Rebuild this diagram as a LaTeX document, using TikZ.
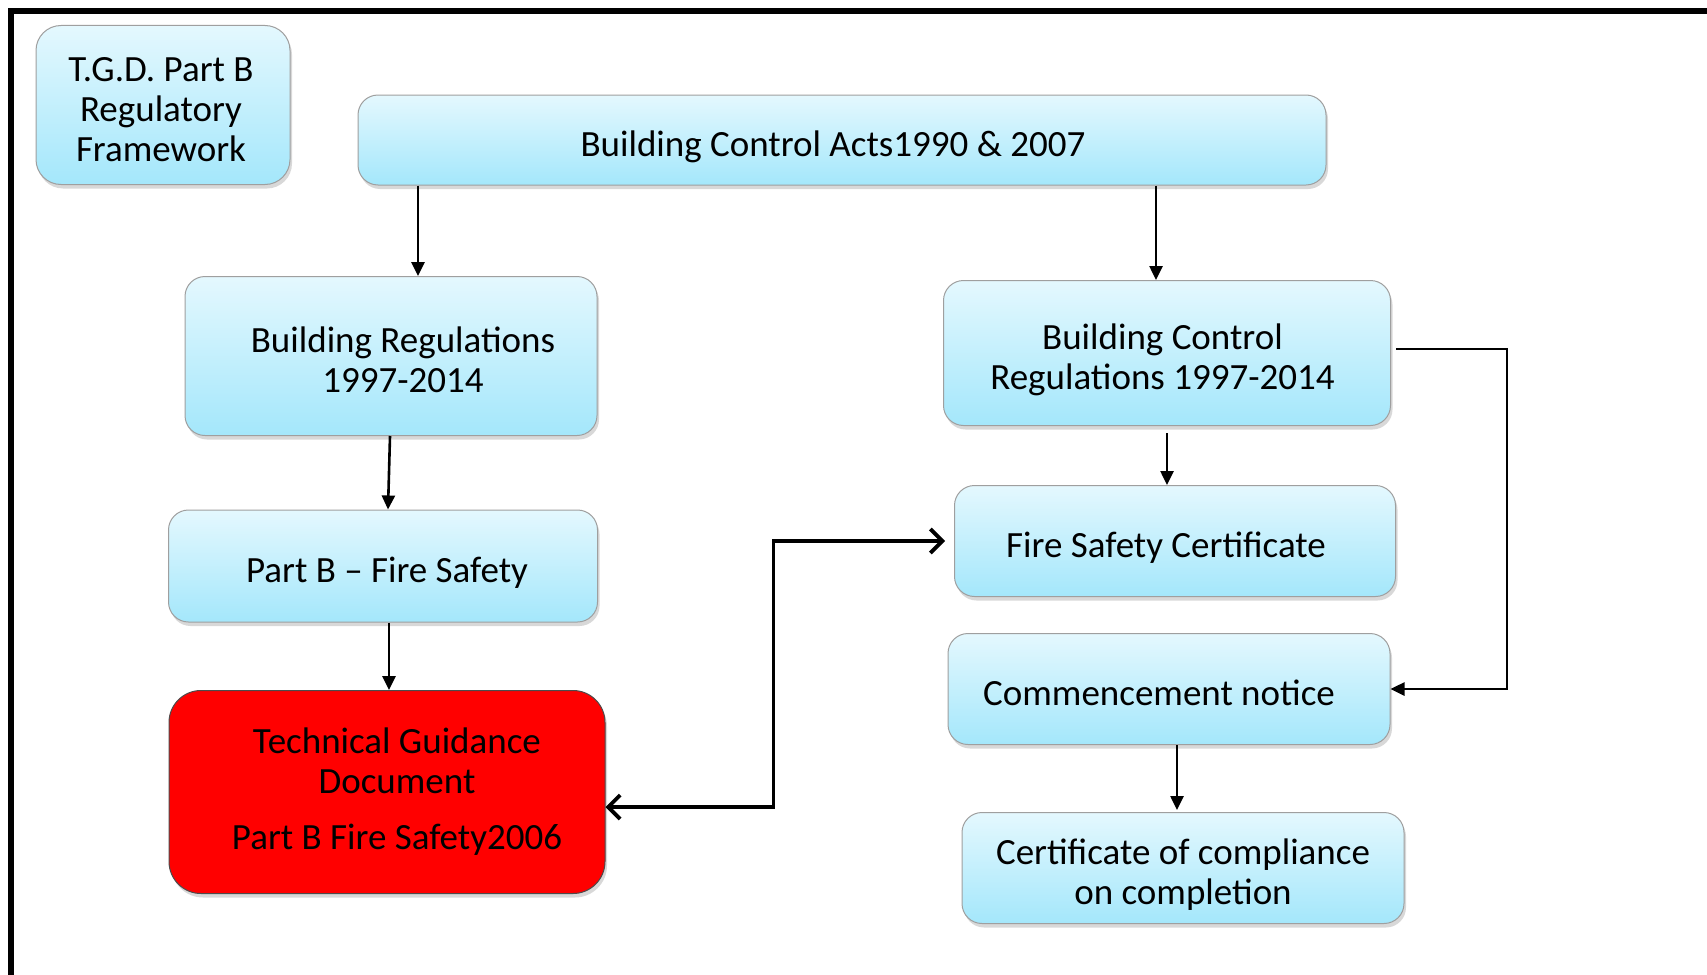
\documentclass[tikz,border=0pt]{standalone}
\usepackage{fontspec}
\setmainfont{Carlito}
\usetikzlibrary{arrows.meta,shadows,calc}
\definecolor{boxtop}{RGB}{228,248,254}
\definecolor{boxbot}{RGB}{164,231,251}
\newcommand{\lowtxt}[1]{\raisebox{-8pt}[\height][\depth]{\begin{tabular}{@{}c@{}}#1\end{tabular}}}
\begin{document}
\begin{tikzpicture}[x=1pt,y=-1pt,
  bx/.style={draw=gray!75, line width=1pt, rounded corners=20pt,
    top color=boxtop, bottom color=boxbot, align=center,
    font=\fontsize{37}{40}\selectfont, inner sep=0pt,
    drop shadow={opacity=0.3,shadow xshift=2pt,shadow yshift=-4pt}},
  redbx/.style={bx, fill=red, top color=red, bottom color=red, draw=black!70, rounded corners=32pt},
  arr/.style={-{Triangle[length=14pt,width=13pt]}, line width=2.6pt},
  dbl/.style={{Straight Barb[length=12pt,width=24pt]}-{Straight Barb[length=12pt,width=24pt]}, line width=3.8pt}
]
\useasboundingbox (0,0) rectangle (1707,974);
\clip (0,0) rectangle (1707,974);
\fill[white] (0,0) rectangle (1707,974);
\draw[line width=5.5pt] (11,11) rectangle (1780,1040);

\node[bx, rounded corners=25pt, minimum width=254pt, minimum height=159pt] (tgdpb) at (163,105) {\lowtxt{\hspace*{-4pt}T.G.D. Part B\\\hspace*{-4pt}Regulatory\\\hspace*{-4pt}Framework}};
\node[bx, minimum width=968pt, minimum height=90pt] (acts) at (842,140) {\lowtxt{\hspace*{-18pt}Building Control Acts1990 \& 2007}};
\node[bx, minimum width=412pt, minimum height=159pt] (breg) at (391,356) {\lowtxt{\hspace*{24pt}Building Regulations\\\hspace*{24pt}1997-2014}};
\node[bx, minimum width=447pt, minimum height=145pt] (bcr) at (1167,353) {\lowtxt{\hspace*{-9pt}Building Control\\\hspace*{-9pt}Regulations 1997-2014}};
\node[bx, minimum width=429pt, minimum height=112pt] (partb) at (383,566) {\lowtxt{\hspace*{8pt}Part B -- Fire Safety}};
\node[bx, minimum width=441pt, minimum height=111pt] (fsc) at (1175,541) {\lowtxt{\hspace*{-18pt}Fire Safety Certificate}};
\node[redbx, minimum width=436pt, minimum height=203pt] (tgd) at (387,792) {\hspace*{20pt}Technical Guidance\\\hspace*{20pt}Document\\[16pt]\hspace*{20pt}Part B Fire Safety2006};
\node[bx, minimum width=442pt, minimum height=111pt] (comm) at (1169,689) {\lowtxt{\hspace*{-20pt}Commencement notice}};
\node[bx, minimum width=442pt, minimum height=111pt] (cert) at (1183,868) {\lowtxt{Certificate of compliance\\on completion}};

\draw[arr] ([xshift=27pt]breg.north |- acts.south) -- ([xshift=27pt]breg.north);
\draw[arr] ([xshift=-11pt]bcr.north |- acts.south) -- ([xshift=-11pt]bcr.north);
\draw[arr] ([xshift=-1pt]breg.south) -- ([xshift=5pt]partb.north);
\draw[arr] ([xshift=6pt]partb.south) -- ([xshift=6pt]partb.south |- tgd.north);
\draw[arr] ([yshift=-7pt]bcr.south) -- (bcr.south |- fsc.north);
\draw[arr] ([xshift=8pt]comm.south) -- ([xshift=8pt,yshift=2pt]comm.south |- cert.north);
\draw[arr] ([xshift=5pt,yshift=4pt]bcr.east) -- ++(111,0) |- (comm.east);
\draw[dbl] ([yshift=-15pt]tgd.east) -- ++(168,0) |- ([xshift=-9pt]fsc.west);
\end{tikzpicture}
\end{document}
